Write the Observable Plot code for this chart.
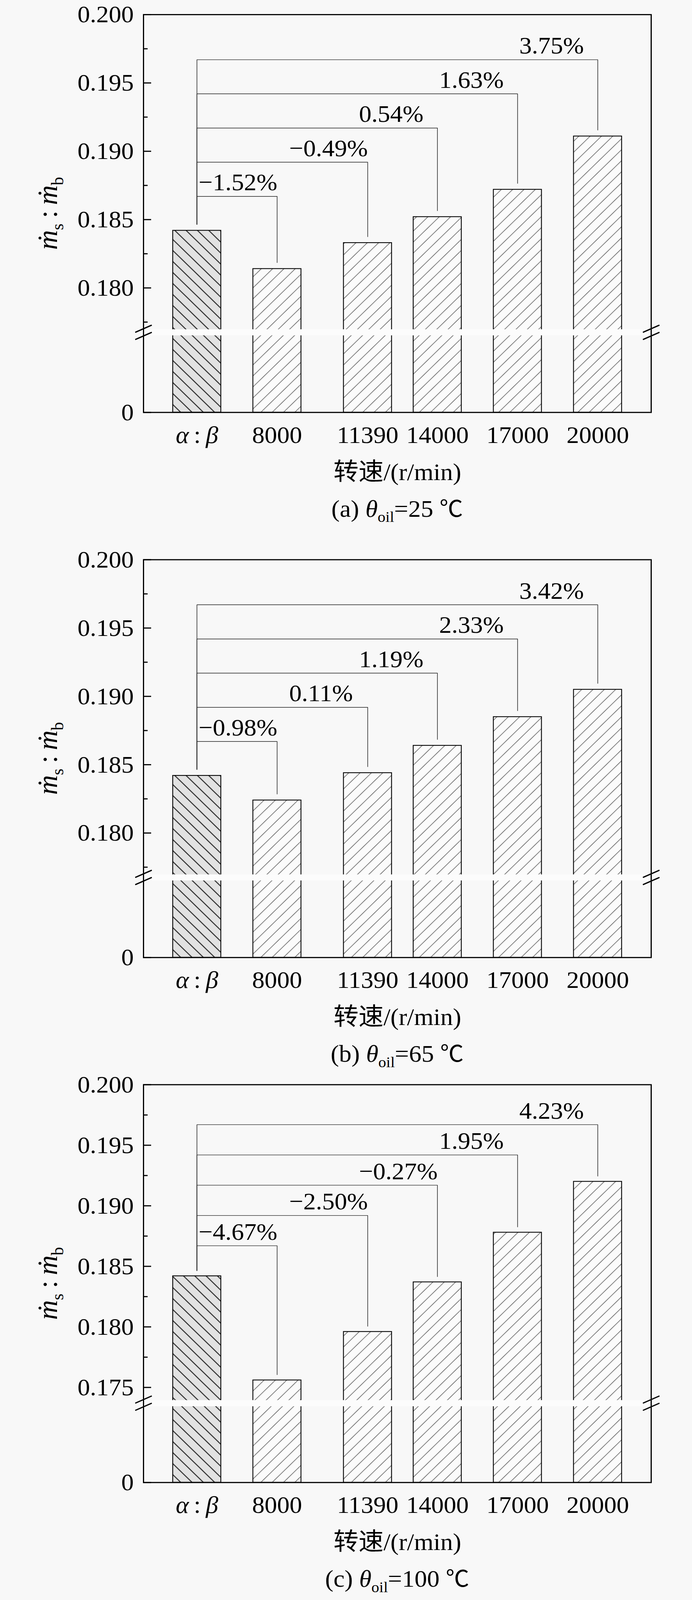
<!DOCTYPE html>
<html>
<head>
<meta charset="utf-8">
<script src="https://cdn.jsdelivr.net/npm/d3@7"></script>
<script src="https://cdn.jsdelivr.net/npm/@observablehq/plot@0.6"></script>
<style>
html,body{margin:0;padding:0;background:#f8f8f8;overflow:hidden;}
#root{position:relative;width:1772px;height:4215px;overflow:hidden;font-family:"Liberation Serif","Times New Roman","Noto Sans CJK SC",serif;color:#000;transform-origin:0 0;}
.panel{position:absolute;left:0;width:1772px;}
.cap{position:absolute;left:0;width:1772px;box-sizing:border-box;text-align:center;font-size:64px;line-height:64px;white-space:nowrap;}
.ylab{position:absolute;font-size:72px;line-height:72px;white-space:nowrap;transform:translate(-50%,-50%) rotate(-90deg);}
.sub{font-size:40px;position:relative;top:14px;}
.ylab .sub{font-size:44px;top:16px;}
.deg{font-family:"Noto Sans CJK SC","DejaVu Sans",sans-serif;font-size:60px;}
</style>
</head>
<body>
<div id="root"></div>
<script>
// ---------- data ----------
const categories = ["α:β", "8000", "11390", "14000", "17000", "20000"];
const xPositions = [5000, 8000, 11390, 14000, 17000, 20000]; // r/min
const baseValue = 0.1842;
const valuesA = [0.1814, 0.1833, 0.1852, 0.1872, 0.1911];
const valuesB = [0.1824, 0.1844, 0.1864, 0.1885, 0.1905];
const valuesC = [0.1756, 0.1796, 0.1837, 0.1878, 0.1920];
const changesA = ["−1.52%", "−0.49%", "0.54%", "1.63%", "3.75%"];
const changesB = ["−0.98%", "0.11%", "1.19%", "2.33%", "3.42%"];
const changesC = ["−4.67%", "−2.50%", "−0.27%", "1.95%", "4.23%"];
const bracketLevels = [0.1867, 0.1892, 0.1917, 0.1942, 0.1967];
const yTicksAB = [0, 0.180, 0.185, 0.190, 0.195, 0.200];
const yMinorAB = [0.1775, 0.1825, 0.1875, 0.1925, 0.1975];
const yTicksC = [0, 0.175, 0.180, 0.185, 0.190, 0.195, 0.200];
const yMinorC = [0.1775, 0.1825, 0.1875, 0.1925, 0.1975];
const panelLetters = ["(a)", "(b)", "(c)"];
const oilTemps = ["25", "65", "100"];
const xAxisLabel = "转速/(r/min)";

// ---------- layout ----------
const W = 1772, H = 4215, svgH = 1300, frameTop = 38, frameH = 1048;
const xDomain = [3000, 22000];
const xRange = [367, 1667];
const barHalf = 900;
const gap = 0.00045;
const FONT = '"Liberation Serif","Times New Roman","Noto Sans CJK SC",serif';

const panels = [
  {top: 0,    values: valuesA, changes: changesA, ticks: yTicksAB, minor: yMinorAB, breakValue: 0.17675, breakPx: 837},
  {top: 1436, values: valuesB, changes: changesB, ticks: yTicksAB, minor: yMinorAB, breakValue: 0.17675, breakPx: 837},
  {top: 2819, values: valuesC, changes: changesC, ticks: yTicksC,  minor: yMinorC,  breakValue: 0.1737,  breakPx: 839}
];

const breakShape = {
  draw(ctx) {
    ctx.moveTo(-20, -0.5); ctx.lineTo(20, -18.5);
    ctx.moveTo(-20, 18.5); ctx.lineTo(20, 0.5);
  }
};

const root = document.getElementById("root");
// fit the full figure into the visible viewport height
const vh = window.innerHeight || document.documentElement.clientHeight || H;
if (vh > 0 && vh < H) root.style.transform = `scale(1, ${vh / H})`;

panels.forEach((p, idx) => {
  const bars = p.values.map((v, i) => ({x: xPositions[i + 1], v, label: p.changes[i], level: bracketLevels[i]}));
  const base = [{x: xPositions[0], v: baseValue}];
  const bracket = bars.flatMap((b, i) => [
    {k: i, x: xPositions[0], y: baseValue + gap},
    {k: i, x: xPositions[0], y: b.level},
    {k: i, x: b.x, y: b.level},
    {k: i, x: b.x, y: b.v + gap}
  ]);
  const frameW = xRange[1] - xRange[0];

  const svg = Plot.plot({
    width: W, height: svgH,
    marginLeft: xRange[0], marginRight: W - xRange[1],
    marginTop: frameTop, marginBottom: svgH - frameTop - frameH,
    style: {background: "transparent", fontFamily: FONT, fontSize: "64px", color: "#000", overflow: "visible"},
    x: {type: "linear", domain: xDomain, range: xRange},
    y: {type: "linear", domain: [0, p.breakValue, 0.200], range: [frameTop + frameH, frameTop + p.breakPx, frameTop]},
    marks: [
      Plot.rectY(base, {x1: d => d.x - barHalf, x2: d => d.x + barHalf, y: "v", fill: `url(#hb${idx})`, stroke: "#000", strokeWidth: 2.2}),
      Plot.rectY(bars, {x1: d => d.x - barHalf, x2: d => d.x + barHalf, y: "v", fill: `url(#hs${idx})`, stroke: "#000", strokeWidth: 2.2}),
      Plot.ruleY([p.breakValue], {stroke: "#fcfcfc", strokeWidth: 16, insetLeft: 3, insetRight: 3}),
      Plot.frame({stroke: "#000", strokeWidth: 3}),
      Plot.ruleY(p.ticks, {stroke: "#000", strokeWidth: 3, insetRight: frameW - 20}),
      Plot.ruleY(p.minor, {stroke: "#000", strokeWidth: 3, insetRight: frameW - 11}),
      Plot.vector([p.breakValue], {y: d => d, frameAnchor: "left", length: 1, anchor: "start", shape: breakShape, stroke: "#000", strokeWidth: 3.3}),
      Plot.vector([p.breakValue], {y: d => d, frameAnchor: "right", length: 1, anchor: "start", shape: breakShape, stroke: "#000", strokeWidth: 3.3}),
      Plot.line(bracket, {x: "x", y: "y", z: "k", stroke: "#222", strokeWidth: 1.5}),
      Plot.text(bars, {x: "x", y: "level", text: "label", textAnchor: "start", lineAnchor: "bottom", dx: -201, dy: -16, fontSize: 64}),
      Plot.axisY(p.ticks, {tickSize: 0, tickPadding: 25, tickFormat: d => d === 0 ? "0" : d.toFixed(3), fontSize: 64, label: null}),
      Plot.axisX(xPositions, {tickSize: 0, tickPadding: 35, tickFormat: d => categories[xPositions.indexOf(d)], fontSize: 64, label: null}),
      Plot.text([xAxisLabel], {frameAnchor: "bottom", dy: 178, lineAnchor: "bottom", fontSize: 64})
    ]
  });

  // hatch patterns
  const defs = d3.select(svg).insert("defs", ":first-child");
  const s = 20.5;
  const pb = defs.append("pattern").attr("id", `hb${idx}`).attr("patternUnits", "userSpaceOnUse")
    .attr("width", s).attr("height", s).attr("patternTransform", "rotate(-45)");
  pb.append("rect").attr("width", s).attr("height", s).attr("fill", "#e2e2e2");
  pb.append("line").attr("x1", s / 2).attr("y1", 0).attr("x2", s / 2).attr("y2", s).attr("stroke", "#111").attr("stroke-width", 2.2);
  const ps = defs.append("pattern").attr("id", `hs${idx}`).attr("patternUnits", "userSpaceOnUse")
    .attr("width", s).attr("height", s).attr("patternTransform", "rotate(45)");
  ps.append("rect").attr("width", s).attr("height", s).attr("fill", "#fbfbfb");
  ps.append("line").attr("x1", s / 2).attr("y1", 0).attr("x2", s / 2).attr("y2", s).attr("stroke", "#4a4a4a").attr("stroke-width", 1.4);

  // italic Greek in first category label
  d3.select(svg).selectAll("text").filter(function () { return this.textContent === categories[0]; })
    .each(function () {
      const t = d3.select(this);
      t.text(null);
      t.append("tspan").attr("font-style", "italic").text("α");
      t.append("tspan").text("\u2009:\u2009");
      t.append("tspan").attr("font-style", "italic").text("β");
    });

  const panel = document.createElement("div");
  panel.className = "panel";
  panel.style.top = p.top + "px";
  panel.appendChild(svg);
  svg.style.display = "block";
  root.appendChild(panel);

  // y-axis label
  const yl = document.createElement("div");
  yl.className = "ylab";
  yl.style.left = "127px";
  yl.style.top = (p.top + frameTop + frameH / 2) + "px";
  yl.innerHTML = '<i>ṁ</i><span class="sub">s</span>\u2009:\u2009<i>ṁ</i><span class="sub">b</span>';
  root.appendChild(yl);

  // caption
  const cap = document.createElement("div");
  cap.className = "cap";
  const baseline = p.top + frameTop + frameH + 275;
  cap.style.top = (baseline - 58) + "px";
  cap.style.paddingLeft = (xRange[0] + xRange[1] - W) + "px";
  cap.innerHTML = `${panelLetters[idx]} <i>θ</i><span class="sub">oil</span>=${oilTemps[idx]} <span class="deg">℃</span>`;
  root.appendChild(cap);
});
</script>
</body>
</html>
